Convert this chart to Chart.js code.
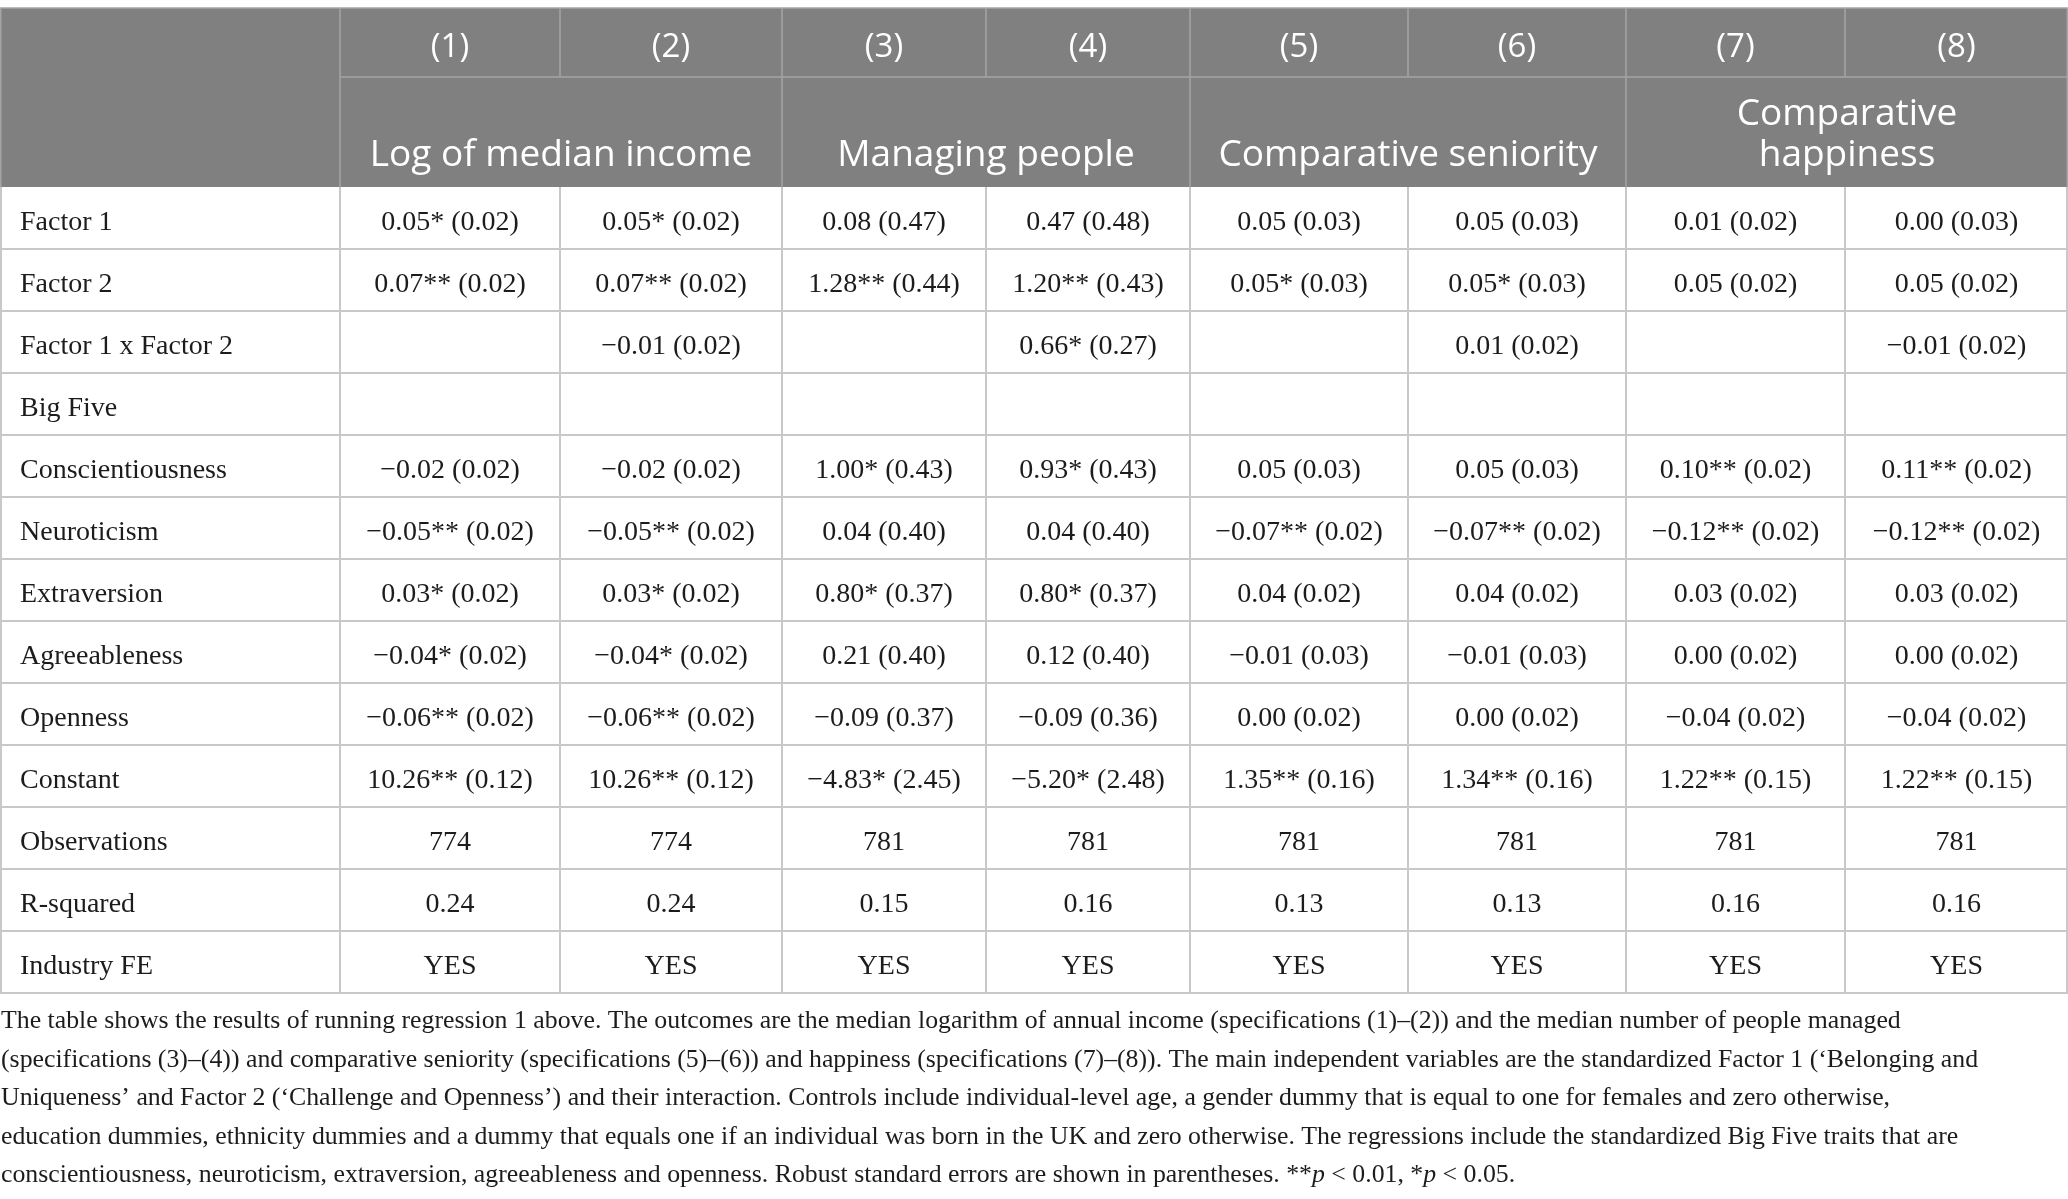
<!DOCTYPE html>
<html>
<head>
<meta charset="utf-8">
<script src="https://cdn.jsdelivr.net/npm/chart.js@4.4.1/dist/chart.umd.min.js"></script>
<style>
  html, body { margin: 0; padding: 0; background: #fff; }
  #wrap { width: 2068px; height: 1199px; }
</style>
</head>
<body>
<div id="wrap"><canvas id="regTable" width="2068" height="1199"></canvas></div>
<script>
  'use strict';

  // ===========================================================================
  // DATA
  // ===========================================================================

  const modelLabels = ['(1)', '(2)', '(3)', '(4)', '(5)', '(6)', '(7)', '(8)'];
  const outcomeLabels = ['Log of median income', 'Managing people', 'Comparative seniority', 'Comparative\nhappiness'];
  const outcomeModels = [[1, 2], [3, 4], [5, 6], [7, 8]];

  const rowLabels = [
    'Factor 1', 'Factor 2', 'Factor 1 x Factor 2', 'Big Five', 'Conscientiousness',
    'Neuroticism', 'Extraversion', 'Agreeableness', 'Openness', 'Constant',
    'Observations', 'R-squared', 'Industry FE',
  ];

  const factor1 = ['0.05* (0.02)', '0.05* (0.02)', '0.08 (0.47)', '0.47 (0.48)', '0.05 (0.03)', '0.05 (0.03)', '0.01 (0.02)', '0.00 (0.03)'];
  const factor2 = ['0.07** (0.02)', '0.07** (0.02)', '1.28** (0.44)', '1.20** (0.43)', '0.05* (0.03)', '0.05* (0.03)', '0.05 (0.02)', '0.05 (0.02)'];
  const interaction = ['', '\u22120.01 (0.02)', '', '0.66* (0.27)', '', '0.01 (0.02)', '', '\u22120.01 (0.02)'];
  const bigFive = ['', '', '', '', '', '', '', ''];
  const conscientiousness = ['\u22120.02 (0.02)', '\u22120.02 (0.02)', '1.00* (0.43)', '0.93* (0.43)', '0.05 (0.03)', '0.05 (0.03)', '0.10** (0.02)', '0.11** (0.02)'];
  const neuroticism = ['\u22120.05** (0.02)', '\u22120.05** (0.02)', '0.04 (0.40)', '0.04 (0.40)', '\u22120.07** (0.02)', '\u22120.07** (0.02)', '\u22120.12** (0.02)', '\u22120.12** (0.02)'];
  const extraversion = ['0.03* (0.02)', '0.03* (0.02)', '0.80* (0.37)', '0.80* (0.37)', '0.04 (0.02)', '0.04 (0.02)', '0.03 (0.02)', '0.03 (0.02)'];
  const agreeableness = ['\u22120.04* (0.02)', '\u22120.04* (0.02)', '0.21 (0.40)', '0.12 (0.40)', '\u22120.01 (0.03)', '\u22120.01 (0.03)', '0.00 (0.02)', '0.00 (0.02)'];
  const openness = ['\u22120.06** (0.02)', '\u22120.06** (0.02)', '\u22120.09 (0.37)', '\u22120.09 (0.36)', '0.00 (0.02)', '0.00 (0.02)', '\u22120.04 (0.02)', '\u22120.04 (0.02)'];
  const constant = ['10.26** (0.12)', '10.26** (0.12)', '\u22124.83* (2.45)', '\u22125.20* (2.48)', '1.35** (0.16)', '1.34** (0.16)', '1.22** (0.15)', '1.22** (0.15)'];
  const observations = [774, 774, 781, 781, 781, 781, 781, 781];
  const rSquared = ['0.24', '0.24', '0.15', '0.16', '0.13', '0.13', '0.16', '0.16'];
  const industryFE = ['YES', 'YES', 'YES', 'YES', 'YES', 'YES', 'YES', 'YES'];

  const tableRows = [
    factor1, factor2, interaction, bigFive, conscientiousness, neuroticism,
    extraversion, agreeableness, openness, constant, observations, rSquared, industryFE,
  ];

  // Caption lines; text between underscores is set in italics.
  const captionLines = [
    'The table shows the results of running regression 1 above. The outcomes are the median logarithm of annual income (specifications (1)\u2013(2)) and the median number of people managed',
    '(specifications (3)\u2013(4)) and comparative seniority (specifications (5)\u2013(6)) and happiness (specifications (7)\u2013(8)). The main independent variables are the standardized Factor 1 (\u2018Belonging and',
    'Uniqueness\u2019 and Factor 2 (\u2018Challenge and Openness\u2019) and their interaction. Controls include individual-level age, a gender dummy that is equal to one for females and zero otherwise,',
    'education dummies, ethnicity dummies and a dummy that equals one if an individual was born in the UK and zero otherwise. The regressions include the standardized Big Five traits that are',
    'conscientiousness, neuroticism, extraversion, agreeableness and openness. Robust standard errors are shown in parentheses. **_p_ < 0.01, *_p_ < 0.05.',
  ];

  // ===========================================================================
  // LAYOUT
  // ===========================================================================

  const TABLE_W = 2068;
  const colEdges = [0, 340, 560, 782, 986, 1190, 1408, 1626, 1845, 2068];
  const headTop = 8;
  const headMid = 77;
  const headBottom = 187;
  const bodyBottom = 993;

  const SERIF = '"Liberation Serif", "Times New Roman", serif';
  const SANS = '"Open Sans", "Noto Sans", sans-serif';
  const TEXT = '#1c1c1c';
  const HEAD_BG = '#808080';
  const HEAD_LINE = '#a4a4a4';
  const BODY_LINE = '#c8c8c8';

  // ===========================================================================
  // TABLE PLUGIN
  // ===========================================================================

  const tablePlugin = {
    id: 'regressionTable',
    afterDraw(chart) {
      const ctx = chart.ctx;
      const xs = chart.scales.x;
      const ys = chart.scales.y;
      const area = chart.chartArea;
      const px = v => xs.getPixelForValue(v);
      const band = ys.getPixelForValue(1) - ys.getPixelForValue(0);
      const left = px(0);
      const right = px(TABLE_W);

      ctx.save();

      // Header block.
      ctx.fillStyle = HEAD_BG;
      ctx.fillRect(left, headTop, right - left, area.top - headTop);

      ctx.strokeStyle = HEAD_LINE;
      ctx.lineWidth = 1.5;
      line(ctx, left, headTop, right, headTop);
      line(ctx, px(colEdges[1]), headMid, right, headMid);
      colEdges.forEach((e, i) => {
        if (i === 0 || i === colEdges.length - 1) return;
        line(ctx, px(e), headTop, px(e), headMid);
      });
      [1, 3, 5, 7].forEach(i => line(ctx, px(colEdges[i]), headMid, px(colEdges[i]), area.top));
      line(ctx, left + 0.75, headTop, left + 0.75, area.top);
      line(ctx, right - 0.75, headTop, right - 0.75, area.top);

      ctx.fillStyle = '#ffffff';
      ctx.textAlign = 'center';
      ctx.textBaseline = 'alphabetic';
      ctx.font = `33px ${SANS}`;
      modelLabels.forEach((lbl, i) => {
        ctx.fillText(lbl, (px(colEdges[i + 1]) + px(colEdges[i + 2])) / 2, headTop + 49);
      });
      ctx.font = `37px ${SANS}`;
      outcomeLabels.forEach((lbl, i) => {
        const [a, b] = outcomeModels[i];
        const cx = (px(colEdges[a]) + px(colEdges[b + 1])) / 2;
        const lines = lbl.split('\n');
        lines.forEach((t, k) => {
          ctx.fillText(t, cx, area.top - 21 - (lines.length - 1 - k) * 41);
        });
      });

      // Body grid.
      ctx.strokeStyle = BODY_LINE;
      ctx.lineWidth = 2;
      rowLabels.forEach((lbl, r) => {
        const yb = ys.getPixelForValue(r) + band / 2;
        line(ctx, left, yb, right, yb);
      });
      colEdges.forEach((e, i) => {
        let x = px(e);
        if (i === 0) x += 1;
        if (i === colEdges.length - 1) x -= 1;
        line(ctx, x, area.top, x, area.bottom);
      });

      // Body text.
      ctx.fillStyle = TEXT;
      ctx.font = `28px ${SERIF}`;
      rowLabels.forEach((lbl, r) => {
        const base = ys.getPixelForValue(r) + 12;
        ctx.textAlign = 'left';
        ctx.fillText(lbl, px(colEdges[0]) + 20, base);
        ctx.textAlign = 'center';
        tableRows[r].forEach((v, c) => {
          if (v === '') return;
          ctx.fillText(String(v), (px(colEdges[c + 1]) + px(colEdges[c + 2])) / 2, base);
        });
      });

      // Caption.
      ctx.textAlign = 'left';
      captionLines.forEach((t, k) => {
        let x = left + 1;
        const yBase = area.bottom + 35 + k * 38.5;
        t.split('_').forEach((seg, j) => {
          ctx.font = `${j % 2 ? 'italic ' : ''}25.8px ${SERIF}`;
          ctx.fillText(seg, x, yBase);
          x += ctx.measureText(seg).width;
        });
      });

      ctx.restore();
    },
  };

  function line(ctx, x1, y1, x2, y2) {
    ctx.beginPath();
    ctx.moveTo(x1, y1);
    ctx.lineTo(x2, y2);
    ctx.stroke();
  }

  // ===========================================================================
  // CHART
  // ===========================================================================

  new Chart(document.getElementById('regTable'), {
    type: 'scatter',
    data: { labels: rowLabels, datasets: [] },
    options: {
      responsive: false,
      animation: false,
      devicePixelRatio: 1,
      layout: { padding: { top: headBottom, bottom: 1199 - bodyBottom, left: 0, right: 0 } },
      plugins: { legend: { display: false }, tooltip: { enabled: false } },
      scales: {
        x: { type: 'linear', min: 0, max: TABLE_W, display: false },
        y: { type: 'category', labels: rowLabels, offset: true, display: false },
      },
    },
    plugins: [tablePlugin],
  });
</script>
</body>
</html>
